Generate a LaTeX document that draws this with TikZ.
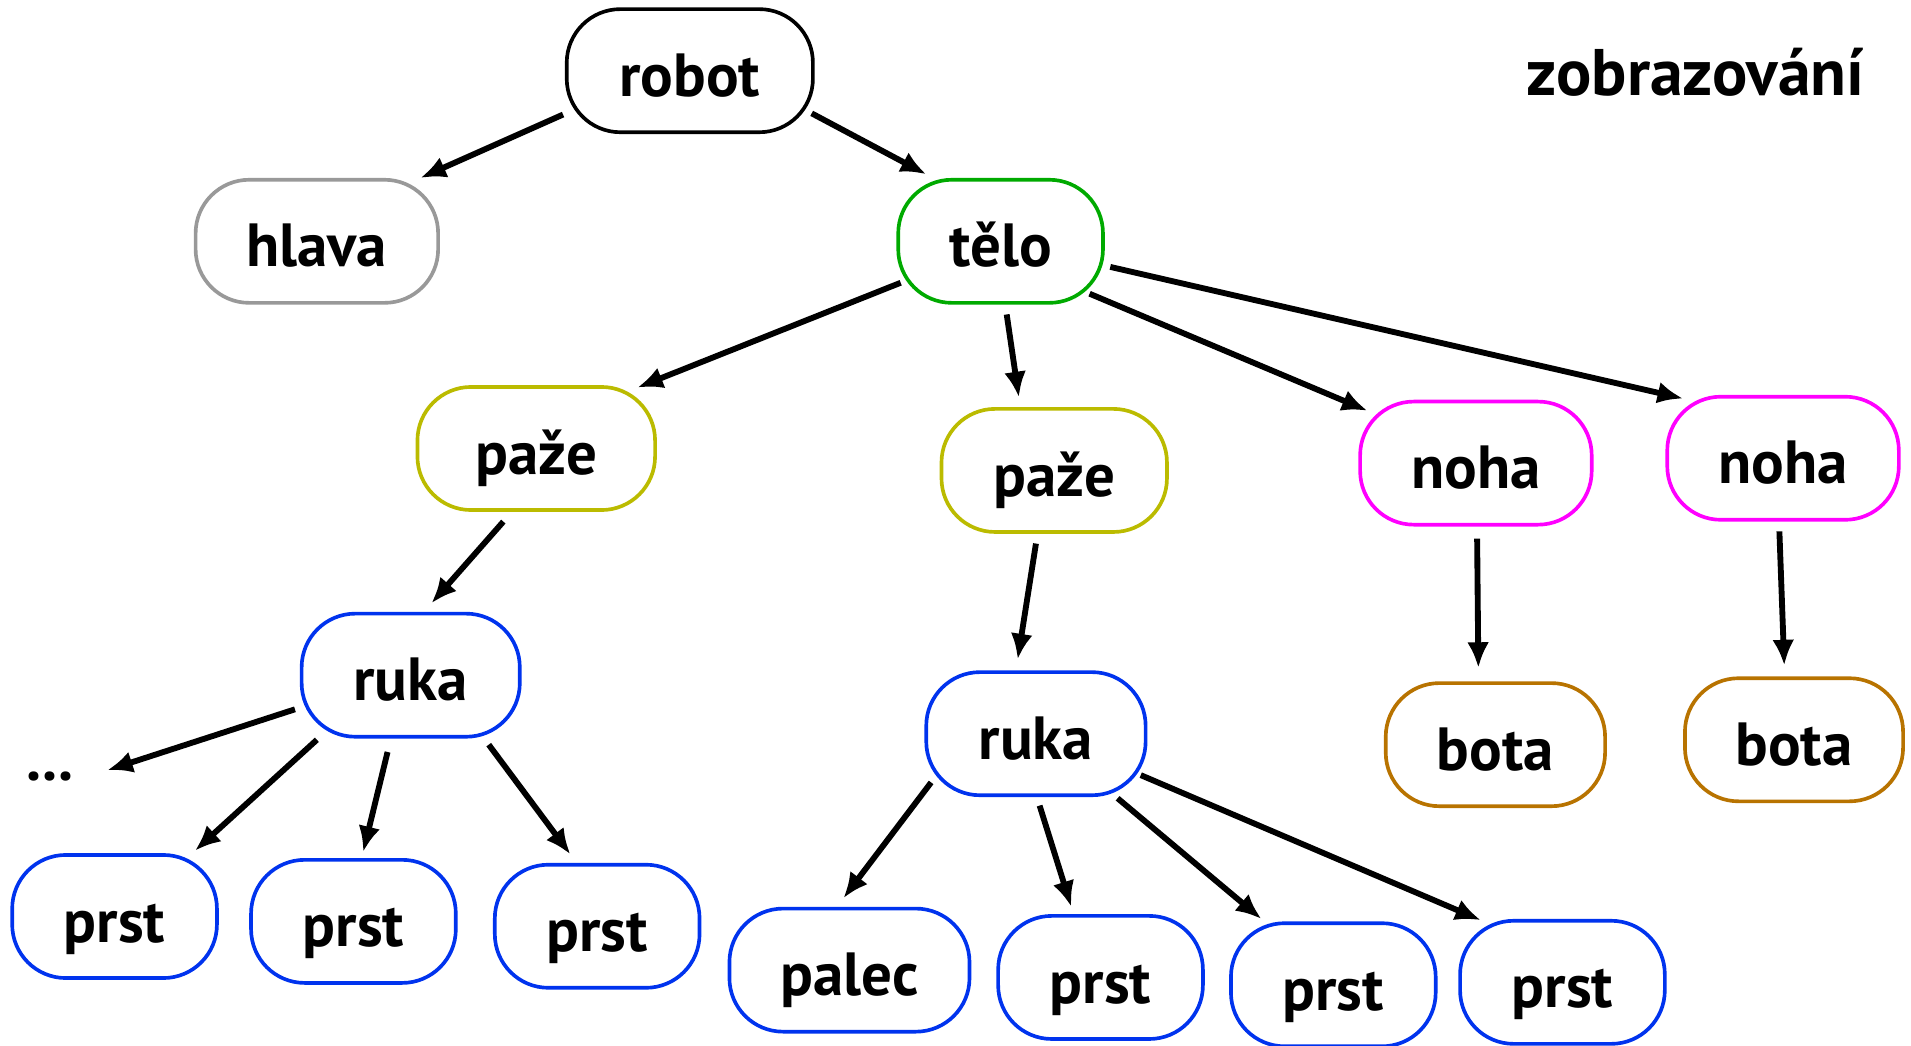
\documentclass[tikz,border=0pt]{standalone}
\usepackage{fontspec}
\setmainfont{PT Sans}
\usetikzlibrary{arrows.meta}
\definecolor{cgray}{HTML}{999999}
\definecolor{cgreen}{HTML}{00AA00}
\definecolor{colive}{HTML}{BBBB00}
\definecolor{cmag}{HTML}{FF00FF}
\definecolor{cblue}{HTML}{0033EE}
\definecolor{cbrown}{HTML}{B87300}
\tikzset{
  lbl/.style={font=\fontsize{50}{54}\selectfont\bfseries, text height=52pt, text depth=10pt, inner sep=0pt},
  box/.style={lbl, draw, line width=3pt, rounded corners=44pt, minimum height=101pt},
  arr/.style={line width=4.8pt, -{Latex[length=21pt,width=18pt]}},
}
\begin{document}
\begin{tikzpicture}[x=1pt,y=-1pt]
\useasboundingbox[fill=white] (0,0) rectangle (1568,858);
% nodes
\node[box, draw=black, minimum width=202pt] (robot) at (566,58) {robot};
\node[box, draw=cgray, minimum width=199pt] (hlava) at (260,198) {hlava};
\node[box, draw=cgreen, minimum width=168pt] (telo) at (821,198) {tělo};
\node[box, draw=colive, minimum width=195pt] (paze1) at (440,368) {paže};
\node[box, draw=colive, minimum width=185pt] (paze2) at (865,386) {paže};
\node[box, draw=cmag, minimum width=190pt] (noha1) at (1211,380) {noha};
\node[box, draw=cmag, minimum width=190pt] (noha2) at (1463,376) {noha};
\node[box, draw=cblue, minimum width=179pt] (ruka1) at (337,554) {ruka};
\node[box, draw=cblue, minimum width=180pt] (ruka2) at (850,602) {ruka};
\node[box, draw=cbrown, minimum width=180pt] (bota1) at (1227,611) {bota};
\node[box, draw=cbrown, minimum width=179pt] (bota2) at (1472,607) {bota};
\node[box, draw=cblue, minimum width=168pt] (prst1) at (94,752) {prst};
\node[box, draw=cblue, minimum width=168pt] (prst2) at (290,756) {prst};
\node[box, draw=cblue, minimum width=168pt] (prst3) at (490,760) {prst};
\node[box, draw=cblue, minimum width=197pt] (palec) at (697,796) {palec};
\node[box, draw=cblue, minimum width=168pt] (prst4) at (903,802) {prst};
\node[box, draw=cblue, minimum width=168pt] (prst5) at (1094,808) {prst};
\node[box, draw=cblue, minimum width=168pt] (prst6) at (1282,806) {prst};
\node[lbl] (dots) at (41,619) {...};
\node[lbl, anchor=base east, font=\fontsize{54}{58}\selectfont\bfseries] (title) at (1530,78) {zobrazování};
% arrows
\draw[arr] ([shift={(-104,36)}]robot.center) -- ([shift={(85,-52)}]hlava.center);
\draw[arr] ([shift={(100,35)}]robot.center) -- ([shift={(-61,-55)}]telo.center);
\draw[arr] ([shift={(-82,34)}]telo.center) -- ([shift={(83,-50)}]paze1.center);
\draw[arr] ([shift={(5,60)}]telo.center) -- ([shift={(-29,-60)}]paze2.center);
\draw[arr] ([shift={(73,43)}]telo.center) -- ([shift={(-89,-43)}]noha1.center);
\draw[arr] ([shift={(90,21)}]telo.center) -- ([shift={(-82,-49)}]noha2.center);
\draw[arr] ([shift={(-27,60)}]paze1.center) -- ([shift={(17,-59)}]ruka1.center);
\draw[arr] ([shift={(-15,60)}]paze2.center) -- ([shift={(-15,-61)}]ruka2.center);
\draw[arr] ([shift={(1,62)}]noha1.center) -- ([shift={(-14,-63)}]bota1.center);
\draw[arr] ([shift={(-3,60)}]noha2.center) -- ([shift={(-8,-61)}]bota2.center);
\draw[arr] ([shift={(-95,28)}]ruka1.center) -- ([shift={(47,13)}]dots.center);
\draw[arr] ([shift={(-77,53)}]ruka1.center) -- ([shift={(66,-54)}]prst1.center);
\draw[arr] ([shift={(-19,63)}]ruka1.center) -- ([shift={(8,-57)}]prst2.center);
\draw[arr] ([shift={(64,57)}]ruka1.center) -- ([shift={(-22,-59)}]prst3.center);
\draw[arr] ([shift={(-86,40)}]ruka2.center) -- ([shift={(-5,-59)}]palec.center);
\draw[arr] ([shift={(3,59)}]ruka2.center) -- ([shift={(-24,-58)}]prst4.center);
\draw[arr] ([shift={(67,53)}]ruka2.center) -- ([shift={(-59,-54)}]prst5.center);
\draw[arr] ([shift={(86,34)}]ruka2.center) -- ([shift={(-67,-51)}]prst6.center);
\end{tikzpicture}
\end{document}
